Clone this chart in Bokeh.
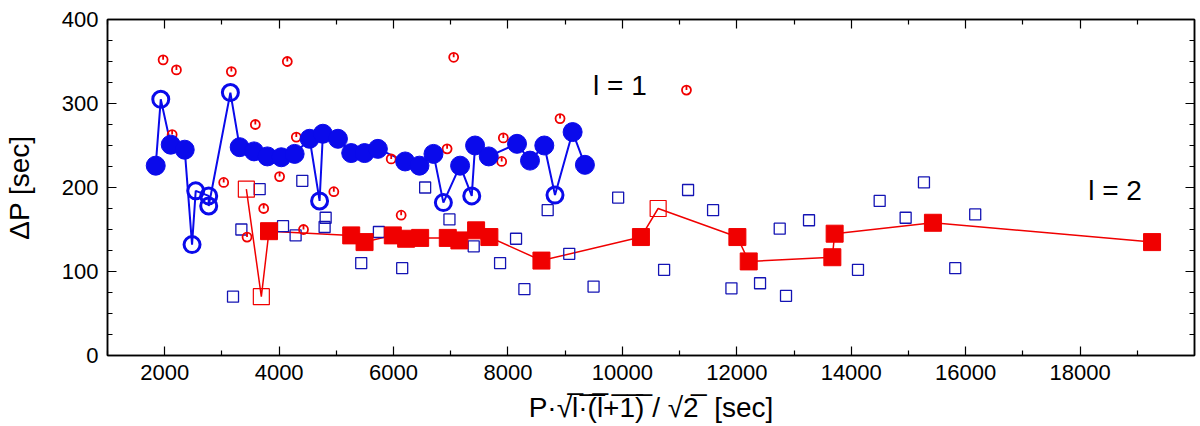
from math import pi
from bokeh.plotting import figure
from bokeh.models import Range1d, LinearAxis, FixedTicker, Label
from bokeh.embed import file_html
from bokeh.resources import INLINE

# l = 1 sequence, filled blue circles
l1_fill_x = [1843, 2105, 2350, 3310, 3561, 3794, 4038, 4271, 4533, 4765, 5028, 5260, 5493,
             5726, 6203, 6453, 6698, 7163, 7425, 7664, 8158, 8385, 8635, 9130, 9345]
l1_fill_y = [226, 251, 245, 248, 243, 237, 236, 240, 258, 264, 258, 241, 241,
             246, 231, 226, 240, 226, 250, 237, 252, 232, 250, 266, 227]
# l = 1 sequence, open blue circles
l1_open_x = [1931, 2478, 2542, 2769, 2769, 3148, 4707, 6871, 7367, 8822]
l1_open_y = [305, 132, 196, 190, 178, 313, 184, 182, 190, 191]

# other l = 1 spacings, small red circles
l1_other_x = [1972, 2130, 2205, 3031, 3165, 3439, 3584, 3730, 4008, 4143, 4300, 4426, 4956,
              5959, 6133, 6936, 7051, 7890, 7919, 8910, 11120]
l1_other_y = [352, 263, 340, 206, 338, 141, 275, 175, 213, 350, 260, 150, 195,
              234, 167, 246, 355, 231, 259, 282, 316]

# other l = 2 spacings, small blue squares
l2_other_x = [3194, 3340, 3660, 4068, 4288, 4405, 4795, 4813, 5435, 5744, 6151, 6552, 6977,
              7401, 7862, 8141, 8287, 8694, 9071, 9496, 9926, 10729, 11148, 11585, 11906,
              12406, 12750, 12860, 13262, 14118, 14497, 14951, 15271, 15818, 16167]
l2_other_y = [70, 150, 198, 154, 143, 208, 153, 164, 110, 147, 104, 200, 162,
              130, 110, 139, 79, 173, 121, 82, 188, 102, 197, 173, 80,
              86, 151, 71, 161, 102, 184, 164, 206, 104, 168]

# l = 2 sequence, filled red squares
l2_fill_x = [3823, 5260, 5493, 5987, 6220, 6465, 6948, 7151, 7443, 7675, 8585, 10324,
             12010, 12208, 13670, 13710, 15428, 19258]
l2_fill_y = [148, 143, 135, 143, 139, 140, 140, 137, 149, 141, 113, 141,
             141, 112, 117, 145, 158, 135]
# l = 2 sequence, open red squares
l2_open_x = [3427, 3689, 10625]
l2_open_y = [198, 70, 175]

x_ticks = [2000, 4000, 6000, 8000, 10000, 12000, 14000, 16000, 18000]
x_minor = [1000, 3000, 5000, 7000, 9000, 11000, 13000, 15000, 17000, 19000]
y_ticks = [0, 100, 200, 300, 400]
y_minor = [25, 50, 75, 125, 150, 175, 225, 250, 275, 325, 350, 375]

BLUE = "#0a0aeb"
RED = "#f00000"
NAVY = "#1414b4"
FONT = "Liberation Sans"

p = figure(width=1200, height=426, output_backend="svg", toolbar_location=None,
           x_range=Range1d(1000, 20000), y_range=Range1d(0, 400),
           min_border_left=106, min_border_right=6, min_border_top=19, min_border_bottom=71)
p.xgrid.visible = False
p.ygrid.visible = False
p.outline_line_color = "black"
p.outline_line_width = 1.5

xt = FixedTicker(ticks=x_ticks, minor_ticks=x_minor)
yt = FixedTicker(ticks=y_ticks, minor_ticks=y_minor)
p.xaxis.ticker = xt
p.yaxis.ticker = yt
bottom = p.below[0]
left = p.left[0]
top = LinearAxis(ticker=xt)
right = LinearAxis(ticker=yt)
p.add_layout(top, "above")
p.add_layout(right, "right")

for ax in [bottom, left, top, right]:
    ax.major_tick_in = 9
    ax.major_tick_out = 0
    ax.minor_tick_in = 5
    ax.minor_tick_out = 0
    ax.axis_line_width = 1.5
    ax.major_tick_line_width = 1.2
    ax.minor_tick_line_width = 1.2
    ax.major_label_text_font = FONT
    ax.major_label_text_font_size = "22px"
    ax.major_label_text_color = "black"
    ax.axis_label_text_font = FONT
    ax.axis_label_text_font_size = "28px"
    ax.axis_label_text_font_style = "normal"
    ax.axis_label_text_color = "black"
for ax in [top, right]:
    ax.major_label_text_font_size = "1px"
    ax.major_label_text_color = None
    ax.major_label_standoff = 0

bottom.axis_label = "P·√l̅·̅(̅l̅+̅1̅)̅ / √2̅ \u00a0[sec]"
bottom.major_label_standoff = 9
bottom.axis_label_standoff = 9
left.axis_label = "ΔP [sec]"
left.major_label_standoff = 9
left.axis_label_standoff = 24

# l = 1 line through filled and open circles in period order
l1 = sorted(zip(l1_fill_x + l1_open_x, l1_fill_y + l1_open_y), key=lambda t: t[0])
p.line([t[0] for t in l1], [t[1] for t in l1], line_color=BLUE, line_width=2)

# l = 2 line through filled and open squares
l2 = sorted(zip(l2_fill_x + l2_open_x, l2_fill_y + l2_open_y), key=lambda t: t[0])
p.line([t[0] for t in l2], [t[1] for t in l2], line_color=RED, line_width=1.5)

p.scatter(l2_other_x, l2_other_y, marker="square", size=11, fill_color=None,
          line_color=NAVY, line_width=1.3)

p.scatter(l1_other_x, l1_other_y, marker="circle", size=9, fill_color=None,
          line_color=RED, line_width=1.8)
p.ray(l1_other_x, l1_other_y, length=4, angle=pi / 2, length_units="screen",
      line_color=RED, line_width=1.8)

p.scatter(l1_open_x, l1_open_y, marker="circle", size=16, fill_color=None,
          line_color=BLUE, line_width=3)
p.scatter(l1_fill_x, l1_fill_y, marker="circle", size=19, fill_color=BLUE,
          line_color=BLUE)

p.scatter(l2_open_x, l2_open_y, marker="square", size=16, fill_color=None,
          line_color=RED, line_width=1.2)
p.scatter(l2_fill_x, l2_fill_y, marker="square", size=17, fill_color=RED,
          line_color=RED)

p.add_layout(Label(x=9957, y=322, text="l = 1", text_font=FONT, text_font_size="28px",
                   text_color="black", text_baseline="middle", text_align="center"))
p.add_layout(Label(x=18610, y=197, text="l = 2", text_font=FONT, text_font_size="28px",
                   text_color="black", text_baseline="middle", text_align="center"))

open("out.html", "w").write(file_html(p, INLINE))
